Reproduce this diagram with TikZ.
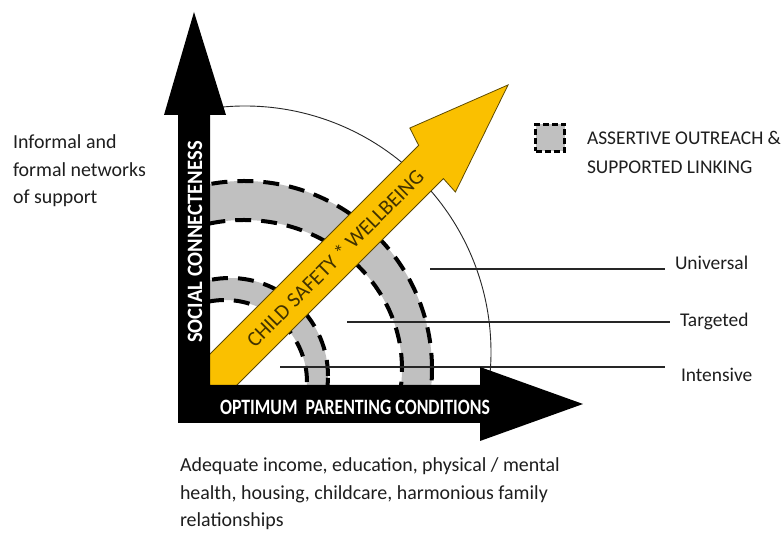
\documentclass[tikz,border=0pt]{standalone}
\usepackage{fontspec}
\usepackage{graphicx}
\setmainfont{Carlito}
\definecolor{bandgray}{RGB}{192,192,192}
\definecolor{arrowyellow}{RGB}{250,192,0}
\definecolor{arrowedge}{RGB}{95,75,0}
\definecolor{safetyink}{RGB}{65,50,0}
\definecolor{bodyink}{RGB}{30,30,30}
\begin{document}
\begin{tikzpicture}[x=1bp,y=1bp,
  every node/.style={inner sep=0pt, outer sep=0pt},
  bodytext/.style={font=\fontsize{20}{27.3}\selectfont, text=bodyink},
  legendtext/.style={font=\fontsize{19.5}{29}\selectfont, text=bodyink},
  axislabel/.style={font=\fontsize{22}{24}\selectfont\bfseries, text=white},
  safetylabel/.style={font=\fontsize{21.3}{23}\selectfont, text=safetyink},
  banddash/.style={draw=black, line width=4bp, dash pattern=on 16bp off 10bp},
  guideline/.style={draw=black!85, line width=1.2bp},
  levellabel/.style={font=\fontsize{19.5}{27}\selectfont, text=bodyink, anchor=west, inner xsep=10bp},
  legendbox/.style={draw=black, fill=bandgray, line width=2.5bp,
    dash pattern=on 6bp off 3bp, minimum width=29bp, minimum height=27bp}
]
\useasboundingbox (0,0) rectangle (783,533);
\fill[white] (0,0) rectangle (783,533);

% grey service bands, each edged with a heavy dashed line
\begin{scope}
  \clip (210,148) rectangle (783,533);
  \fill[bandgray, even odd rule] (244,164) circle[radius=188]
    (244,164) ellipse[x radius=158, y radius=149];
  \fill[bandgray, even odd rule] (230,157) circle[radius=98]
    (225,151) circle[radius=82];
  \draw[banddash] (244,164) circle[radius=188];
  \draw[banddash] (244,164) ellipse[x radius=158, y radius=149];
  \draw[banddash] (230,157) circle[radius=98];
  \draw[banddash] (225,151) circle[radius=82];
\end{scope}

% outer boundary of the universal level
\draw[black!85, line width=0.9bp] (245,181) ++(96:246) arc[start angle=96, end angle=-5, radius=246];

% level labels and their leader lines
\node[levellabel] (universal) at (665,270) {Universal};
\node[levellabel] (targeted) at (670,212) {Targeted};
\node[levellabel, inner xsep=16bp] (intensive) at (665,158) {Intensive};
\coordinate (universalStart) at (430,264);
\coordinate (targetedStart) at (347,211);
\coordinate (intensiveStart) at (280,166);
\draw[guideline] (universalStart) -- (universalStart -| universal.west);
\draw[guideline] (targetedStart) -- (targetedStart -| targeted.west);
\draw[guideline] (intensiveStart) -- (intensiveStart -| intensive.west);

% diagonal arrow, its tail tucked under the corner of the axes
\begin{scope}[shift={(194,134)}, rotate=45]
  \filldraw[fill=arrowyellow, draw=arrowedge, line width=0.8bp]
    (0,-20.5) -- (332.2,-20.5) -- (331.2,-38.5) -- (444.2,0) -- (344.2,39)
    -- (338.2,20.5) -- (0,20.5) -- cycle;
\end{scope}
\node[safetylabel, rotate=45] (safety) at (335,275) {CHILD SAFETY * WELLBEING};

% the two axes
\fill[black] (178,110) -- (480,110) -- (480,92) -- (583,129) -- (480,166)
  -- (480,148) -- (210,148) -- (210,418) -- (226,418) -- (194,521)
  -- (164,418) -- (178,418) -- cycle;
\node[axislabel, rotate=90] (social) at (195,291) {\scalebox{0.94}[1]{SOCIAL CONNECTENESS}};
\node[axislabel] (parenting) at (355,126) {\scalebox{0.81}[1]{OPTIMUM\ \ PARENTING CONDITIONS}};

% explanatory texts
\node[bodytext, align=left, anchor=north west] (networks) at (13,398)
  {Informal and\\formal networks\\of support};
\node[bodytext, align=left, anchor=north west] (conditions) at (180,75)
  {Adequate income, education, physical / mental\\health, housing, childcare, harmonious family\\relationships};

% legend
\node[legendbox] (legendkey) at (550,395) {};
\node[legendtext, align=left, anchor=west] (legendtext) at (587,381)
  {ASSERTIVE OUTREACH \&\\SUPPORTED LINKING};
\end{tikzpicture}
\end{document}
